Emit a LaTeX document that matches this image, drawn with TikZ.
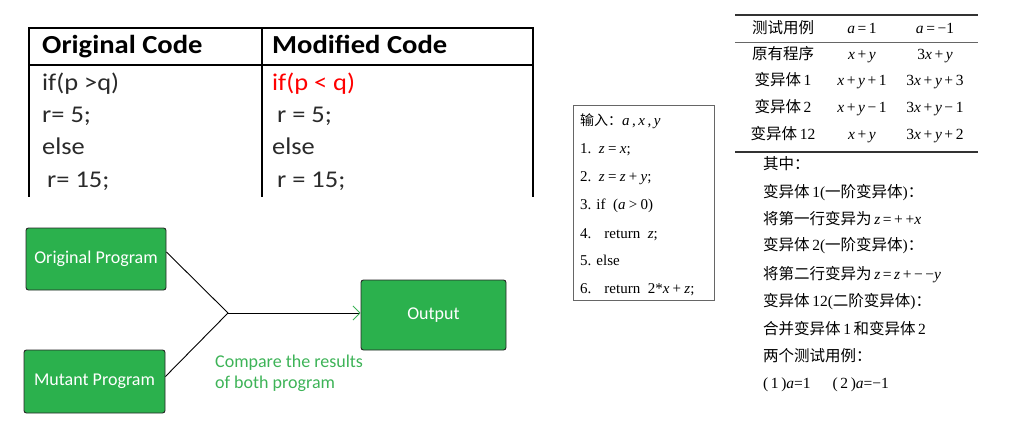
\documentclass[tikz,border=0pt]{standalone}
\usepackage{fontspec}
\usetikzlibrary{arrows.meta}
\setmainfont{Liberation Serif}
\newfontfamily\calfont{Carlito}
\newfontfamily\cjk{Noto Sans CJK SC}
\definecolor{boxgreen}{HTML}{2BB14D}
\definecolor{txtgreen}{HTML}{3DB357}
\definecolor{codegray}{HTML}{2A2A2A}
\newcommand{\mv}[1]{\textit{#1}}
\newcommand{\wide}[1]{\scalebox{1.1}[1]{#1}}
\newcommand{\op}[1]{\hspace{0.22em}#1\hspace{0.22em}}
\begin{document}
\begin{tikzpicture}[x=1pt,y=-1pt,
  prog/.style={draw=black!85, line width=0.9pt, fill=boxgreen, rounded corners=2.5pt, text=white, font=\calfont\fontsize{18}{21}\selectfont},
  hdr/.style={anchor=base west, font=\calfont\bfseries\fontsize{26}{28}\selectfont, inner sep=0},
  cell/.style={anchor=base west, font=\calfont\fontsize{24}{26}\selectfont, text=codegray, inner sep=0},
  cline/.style={anchor=base west, font=\fontsize{15}{17}\selectfont, inner sep=0},
  tcell/.style={anchor=base, font=\fontsize{15.5}{18}\selectfont, inner sep=0},
  note/.style={anchor=base west, font=\fontsize{15.5}{18}\selectfont, inner sep=0}]
\useasboundingbox (0,0) rectangle (1010,433);

% ---- left code table ----
\draw[line width=1.3pt] (29,197) -- (29,28) -- (533,28) -- (533,197);
\draw[line width=1.3pt] (262,28) -- (262,197);
\draw[line width=1.3pt] (29,65) -- (533,65);
\node[hdr] (h1) at (42,54) {\wide{Original Code}};
\node[hdr] (h2) at (272,54) {\wide{Modified Code}};
\node[cell] (o1) at (42,91) {\wide{if(p >q)}};
\node[cell] (o2) at (42,123) {\wide{r= 5;}};
\node[cell] (o3) at (42,155) {\wide{else}};
\node[cell] (o4) at (47,188) {\wide{r= 15;}};
\node[cell, text=red] (m1) at (272,91) {\wide{if(p < q)}};
\node[cell] (m2) at (277,123) {\wide{r = 5;}};
\node[cell] (m3) at (272,155) {\wide{else}};
\node[cell] (m4) at (277,188) {\wide{r = 15;}};

% ---- flow ----
\node[prog, minimum width=140pt, minimum height=62pt] (orig) at (96,259) {Original Program};
\node[prog, minimum width=141pt, minimum height=63pt] (mut) at (94.5,381.5) {Mutant Program};
\node[prog, minimum width=145pt, minimum height=70pt] (out) at (433.5,315) {Output};
\coordinate (j) at (228,313);
\draw[line width=0.9pt] (orig.east) ++(0,-7) -- (j);
\draw[line width=0.9pt] (mut.east) ++(0,-5) -- (j);
\draw[line width=0.9pt, -{Straight Barb[color=txtgreen, length=7pt, width=14pt, line width=0.9pt]}] (j) -- (out.west |- j);
\node[anchor=north west, align=left, text=txtgreen, font=\calfont\fontsize{18}{21}\selectfont, inner sep=0] (cmp) at (215,355) {Compare the results\\of both program};

% ---- middle code box ----
\draw[draw=black!60, line width=0.7pt] (573,105) rectangle (714,300);
\node[cline] (c0) at (580,126) {{\cjk\fontsize{14}{16}\selectfont 输入：}\mv{a}\,,\,\mv{x}\,,\,\mv{y}};
\node[cline] (c1) at (580,154) {1.\ \ \mv{z}\op{=}\mv{x};};
\node[cline] (c2) at (580,182) {2.\ \ \mv{z}\op{=}\mv{z}\op{+}\mv{y};};
\node[cline] (c3) at (580,210) {3. if\ \ (\mv{a}\op{>}0)};
\node[cline] (c4) at (580,238) {4.\hspace{13pt}return\ \ \mv{z};};
\node[cline] (c5) at (580,265) {5. else};
\node[cline] (c6) at (580,293) {6.\hspace{13pt}return\ \ 2*\mv{x}\op{+}\mv{z};};

% ---- right table ----
\draw[line width=1.3pt, black!80] (735,15) -- (978,15);
\draw[line width=0.6pt, black!60] (735,42) -- (978,42);
\draw[line width=1.3pt, black!80] (735,152) -- (978,152);
\node[tcell] (r0a) at (783,34) {\cjk 测试用例};
\node[tcell] (r0b) at (862,34) {\mv{a}\,=\,1};
\node[tcell] (r0c) at (935,34) {\mv{a}\,=\,−1};
\node[tcell] (r1a) at (783,60) {\cjk 原有程序};
\node[tcell] (r1b) at (862,60) {\mv{x}\,+\,\mv{y}};
\node[tcell] (r1c) at (935,60) {3\mv{x}\,+\,\mv{y}};
\node[tcell] (r2a) at (783,86) {{\cjk 变异体}\,1};
\node[tcell] (r2b) at (862,86) {\mv{x}\,+\,\mv{y}\,+\,1};
\node[tcell] (r2c) at (935,86) {3\mv{x}\,+\,\mv{y}\,+\,3};
\node[tcell] (r3a) at (783,113) {{\cjk 变异体}\,2};
\node[tcell] (r3b) at (862,113) {\mv{x}\,+\,\mv{y}\,−\,1};
\node[tcell] (r3c) at (935,113) {3\mv{x}\,+\,\mv{y}\,−\,1};
\node[tcell] (r4a) at (783,140) {{\cjk 变异体}\,12};
\node[tcell] (r4b) at (862,140) {\mv{x}\,+\,\mv{y}};
\node[tcell] (r4c) at (935,140) {3\mv{x}\,+\,\mv{y}\,+\,2};

\node[note] (n1) at (763,170) {\cjk 其中：};
\node[note] (n2) at (763,197) {{\cjk 变异体}\,1({\cjk 一阶变异体}){\cjk ：}};
\node[note] (n3) at (763,225) {{\cjk 将第一行变异为}\,\mv{z}\,=\,+\,+\mv{x}};
\node[note] (n4) at (763,251) {{\cjk 变异体}\,2({\cjk 一阶变异体}){\cjk ：}};
\node[note] (n5) at (763,279) {{\cjk 将第二行变异为}\,\mv{z}\,=\,\mv{z}\,+\,−\,−\mv{y}};
\node[note] (n6) at (763,306) {{\cjk 变异体}\,12({\cjk 二阶变异体}){\cjk ：}};
\node[note] (n7) at (763,334) {{\cjk 合并变异体}\,1\,{\cjk 和变异体}\,2};
\node[note] (n8) at (763,361) {\cjk 两个测试用例：};
\node[note] (n9) at (763,388) {(\,1\,)\mv{a}=1\hspace{22pt}(\,2\,)\mv{a}=−1};
\end{tikzpicture}
\end{document}
